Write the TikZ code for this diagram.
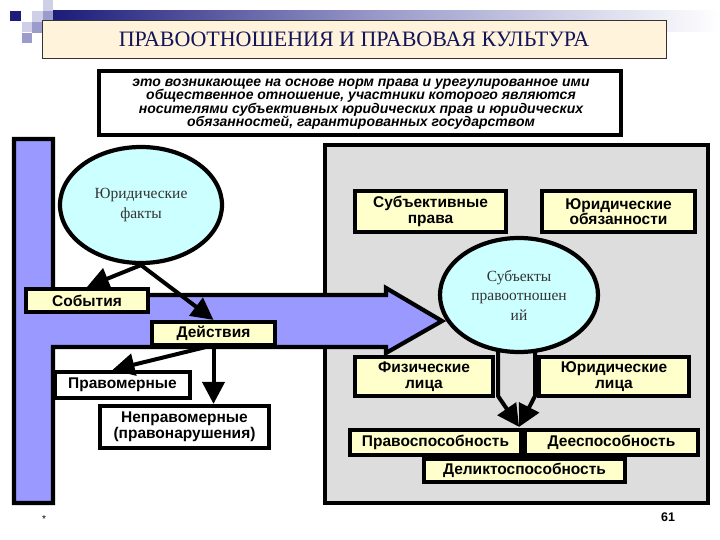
\documentclass[tikz,border=0pt]{standalone}
\usepackage{fontspec}
\setmainfont{Liberation Serif}
\setsansfont{Liberation Sans}
\usetikzlibrary{arrows.meta,shapes.geometric}
\definecolor{lav}{HTML}{9999FF}
\definecolor{cyanf}{HTML}{CCFFFF}
\definecolor{yel}{HTML}{FFFFCC}
\definecolor{panel}{HTML}{DDDDDD}
\definecolor{cream}{HTML}{FFF3DC}
\definecolor{navy}{HTML}{14145A}
\definecolor{sqdark}{HTML}{1C1C7A}
\definecolor{sqmid}{HTML}{9C9CCC}
\definecolor{sqlight}{HTML}{CFCFE8}
\tikzset{
  box/.style={draw=black, line width=4.2pt, fill=yel, inner sep=1pt, align=center,
    font=\sffamily\bfseries\fontsize{15.5}{15.5}\selectfont},
  wbox/.style={box, fill=white},
  oval/.style={ellipse, draw=black, line width=4.2pt, fill=cyanf, align=center, inner sep=0pt,
    text=black!80, font=\fontsize{15.5}{19.5}\selectfont},
  arr/.style={line width=4pt, -{Triangle[length=22pt,width=22pt]}},
  thickline/.style={draw=black, line width=4.2pt, line join=miter}
}
\begin{document}
\begin{tikzpicture}[x=1pt,y=-1pt]
\useasboundingbox (0,0) rectangle (720,540);
% decoration
\shade[left color=sqdark, right color=white, middle color=sqmid] (53,11) rectangle (720,32);
\fill[sqdark] (10,11) rectangle (21,21);
\fill[sqlight] (22,22) rectangle (32,32);
\fill[sqmid] (22,33) rectangle (32,43);
\fill[sqlight] (32,11) rectangle (43,22);
\fill[sqmid] (32,22) rectangle (43,33);
\fill[sqlight] (43,0) rectangle (53,11);
\fill[sqmid] (43,11) rectangle (53,21);
% title
\node[draw=black!80, line width=0.8pt, fill=cream, minimum width=624pt, minimum height=38pt,
  text=navy, font=\fontsize{22}{24}\selectfont] (title) at (354,39) {ПРАВООТНОШЕНИЯ И ПРАВОВАЯ КУЛЬТУРА};
% definition
\draw[draw=black, line width=4.2pt, fill=white] (99,71) rectangle (621,135);
\node[align=center, inner sep=0pt, font=\sffamily\bfseries\itshape\fontsize{14}{13.5}\selectfont] (def) at (361,104)
  {это возникающее на основе норм права и урегулированное ими\\
   общественное отношение, участники которого являются\\
   носителями субъективных юридических прав и юридических\\
   обязанностей, гарантированных государством};
% gray panel
\draw[thickline, fill=panel] (325,145) rectangle (708,503);
% lavender shape
\draw[thickline, fill=lav] (14,139) -- (53,139) -- (53,295) -- (386,295) -- (386,288) -- (442,321)
  -- (386,353) -- (386,347) -- (53,347) -- (53,503) -- (14,503) -- cycle;
% left part
\node[oval, minimum width=162pt, minimum height=116pt] (fact) at (141,205) {Юридические\\факты};
\node[box, minimum width=122pt, minimum height=23pt] (sob) at (87,300.5) {События};
\node[box, minimum width=123pt, minimum height=23pt] (deist) at (213.5,333.5) {Действия};
\node[wbox, minimum width=135pt, minimum height=26pt] (prav) at (122.5,385) {Правомерные};
\node[wbox, minimum width=169pt, minimum height=42pt] (neprav) at (184.5,427) {Неправомерные\\(правонарушения)};
\draw[arr] (fact.south) -- (sob.north);
\draw[arr] (fact.south) -- (deist.north);
\draw[arr] ([xshift=-8pt]deist.south) -- ([xshift=-10pt]prav.north);
\draw[arr] (deist.south) -- (deist.south |- neprav.north);
% right part
\node[box, minimum width=151pt, minimum height=41pt] (subpr) at (430.5,211.5) {Субъективные\\права};
\node[box, minimum width=153pt, minimum height=41pt] (obyaz) at (618.5,211.5) {Юридические\\обязанности};
\node[box, minimum width=138pt, minimum height=39pt] (fiz) at (424,376.5) {Физические\\лица};
\node[box, minimum width=150pt, minimum height=39pt] (yur) at (614,376.5) {Юридические\\лица};
\node[box, minimum width=201pt, minimum height=23pt] (delikt) at (524.5,470.5) {Деликтоспособность};
\node[box, minimum width=171pt, minimum height=25pt] (pravo) at (435.5,442.5) {Правоспособность};
\node[box, minimum width=173pt, minimum height=25pt] (dee) at (611.5,442.5) {Дееспособность};
\coordinate (meet) at ([xshift=-4pt,yshift=1pt]pravo.north east);
\coordinate (ls) at (498,340);
\coordinate (lb) at (498,396);
\coordinate (rs) at (535,340);
\coordinate (rb) at (535,396);
\draw[arr] (ls) -- (lb) -- (meet);
\draw[arr] (rs) -- (rb) -- (meet);
\node[oval, minimum width=158pt, minimum height=114pt] (subj) at (519,295) {Субъекты\\правоотношен\\ий};
% footer
\node[font=\sffamily\fontsize{10}{10}\selectfont] (star) at (44,519) {*};
\node[font=\sffamily\bfseries\fontsize{12.5}{13}\selectfont] (num) at (668,517) {61};
\end{tikzpicture}
\end{document}
